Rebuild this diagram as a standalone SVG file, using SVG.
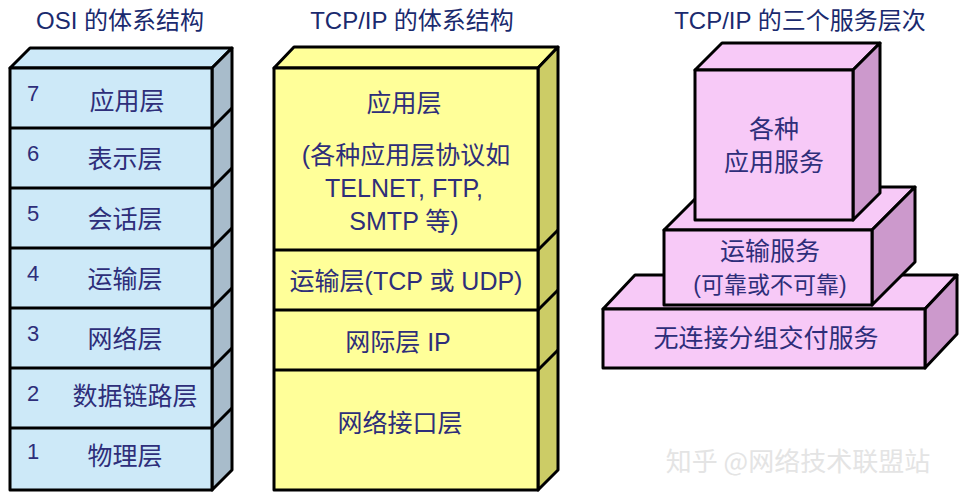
<svg xmlns="http://www.w3.org/2000/svg" width="968" height="502" viewBox="0 0 968 502">
<style>
.t{font-family:"Liberation Sans","Noto Sans CJK SC",sans-serif;font-size:25px;fill:#2e2e7a;text-anchor:middle}
.h{font-family:"Liberation Sans","Noto Sans CJK SC",sans-serif;font-size:24px;fill:#1a2a6e;text-anchor:middle}
.n{font-family:"Liberation Sans",sans-serif;font-size:22px;fill:#2e2e7a}
.s{stroke:#000;stroke-width:3;stroke-linejoin:round}
</style>
<rect width="968" height="502" fill="#fff"/>
<text class="h" x="120" y="29">OSI 的体系结构</text>
<text class="h" x="412" y="29">TCP/IP 的体系结构</text>
<text class="h" x="800" y="29">TCP/IP 的三个服务层次</text>
<g id="osi">
<polygon class="s" points="10,68 30,48 232,48 212,68" fill="#cde9f8"/>
<polygon class="s" points="212,68 232,48 232,470 212,490" fill="#a8bccb"/>
<rect class="s" x="10" y="68" width="202" height="422" fill="#cde9f8"/>
<g stroke="#000" stroke-width="3">
<line x1="10" y1="128" x2="212" y2="128"/><line x1="212" y1="128" x2="232" y2="108"/>
<line x1="10" y1="188" x2="212" y2="188"/><line x1="212" y1="188" x2="232" y2="168"/>
<line x1="10" y1="248" x2="212" y2="248"/><line x1="212" y1="248" x2="232" y2="228"/>
<line x1="10" y1="308" x2="212" y2="308"/><line x1="212" y1="308" x2="232" y2="288"/>
<line x1="10" y1="368" x2="212" y2="368"/><line x1="212" y1="368" x2="232" y2="348"/>
<line x1="10" y1="428" x2="212" y2="428"/><line x1="212" y1="428" x2="232" y2="408"/>
</g>
<text class="n" x="27" y="101">7</text><text class="t" x="127" y="110">应用层</text>
<text class="n" x="27" y="161">6</text><text class="t" x="125" y="168">表示层</text>
<text class="n" x="27" y="221">5</text><text class="t" x="125" y="228">会话层</text>
<text class="n" x="27" y="281">4</text><text class="t" x="125" y="288">运输层</text>
<text class="n" x="27" y="341">3</text><text class="t" x="125" y="348">网络层</text>
<text class="n" x="27" y="401">2</text><text class="t" x="135" y="405">数据链路层</text>
<text class="n" x="27" y="459">1</text><text class="t" x="125" y="465">物理层</text>
</g>
<g id="tcpip">
<polygon class="s" points="274,68 294,47 558,47 538,68" fill="#ffff99"/>
<polygon class="s" points="538,68 558,47 558,470 538,490" fill="#cccc66"/>
<rect class="s" x="274" y="68" width="264" height="422" fill="#ffff99"/>
<g stroke="#000" stroke-width="3">
<line x1="274" y1="250" x2="538" y2="250"/><line x1="538" y1="250" x2="558" y2="230"/>
<line x1="274" y1="310" x2="538" y2="310"/><line x1="538" y1="310" x2="558" y2="290"/>
<line x1="274" y1="370" x2="538" y2="370"/><line x1="538" y1="370" x2="558" y2="350"/>
</g>
<text class="t" x="404" y="112">应用层</text>
<text class="t" x="406" y="164">(各种应用层协议如</text>
<text class="t" x="404" y="197">TELNET, FTP,</text>
<text class="t" x="404" y="230">SMTP 等)</text>
<text class="t" x="406" y="290">运输层(TCP 或 UDP)</text>
<text class="t" x="398" y="351">网际层 IP</text>
<text class="t" x="400" y="432">网络接口层</text>
</g>
<g id="services">
<polygon class="s" points="603,309 635,275 957,275 925,309" fill="#f7c9f7"/>
<polygon class="s" points="925,309 957,275 957,334 925,368" fill="#cc99cc"/>
<rect class="s" x="603" y="309" width="322" height="59" fill="#f7c9f7"/>
<text class="t" x="766" y="347">无连接分组交付服务</text>
<polygon class="s" points="664,230 707,187 915,187 872,230" fill="#f7c9f7"/>
<polygon class="s" points="872,230 915,187 915,262 872,305" fill="#cc99cc"/>
<rect class="s" x="664" y="230" width="208" height="75" fill="#f7c9f7"/>
<text class="t" x="770" y="260">运输服务</text>
<text class="t" x="770" y="293" style="font-size:23px">(可靠或不可靠)</text>
<polygon class="s" points="695,70 722,43 880,43 853,70" fill="#f7c9f7"/>
<polygon class="s" points="853,70 880,43 880,193 853,220" fill="#cc99cc"/>
<rect class="s" x="695" y="70" width="158" height="150" fill="#f7c9f7"/>
<text class="t" x="774" y="138">各种</text>
<text class="t" x="774" y="171">应用服务</text>
</g>
<text x="798" y="471" style="font-family:'Noto Sans CJK SC',sans-serif;font-size:26px;fill:#e4e4e4;text-anchor:middle">知乎 @网络技术联盟站</text>
</svg>
